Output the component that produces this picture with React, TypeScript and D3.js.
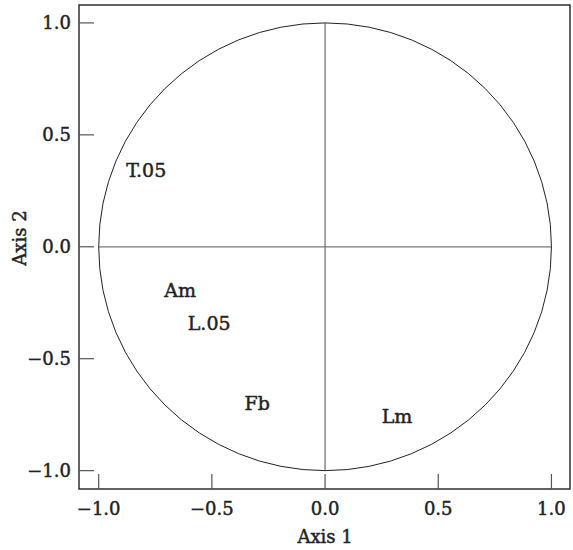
import * as d3 from 'd3';

const xTicks = [-1.0, -0.5, 0.0, 0.5, 1.0];
const yTicks = [-1.0, -0.5, 0.0, 0.5, 1.0];
const labelNames = ['T.05', 'Am', 'L.05', 'Fb', 'Lm'];
const labelX = [-0.79, -0.64, -0.512, -0.30, 0.318];
const labelY = [0.343, -0.193, -0.34, -0.70, -0.755];

const W = 573;
const H = 550;
const frame = { left: 79, right: 570, top: 5, bottom: 489 };
const font = '"DejaVu Serif", "Liberation Serif", serif';
const ink = '#222';

const fmt = (v: number) => (v < 0 ? '\u2212' : '') + Math.abs(v).toFixed(1);

export default function App() {
  const x = d3.scaleLinear().domain([-1.087, 1.082]).range([frame.left, frame.right]);
  const y = d3.scaleLinear().domain([-1.082, 1.08]).range([frame.bottom, frame.top]);
  const tickLen = 15;
  const textStyle = { stroke: ink, strokeWidth: 0.45, fill: ink };

  return (
    <svg
      width={W}
      height={H}
      style={{ position: 'absolute', left: 0, top: 0, background: '#fff' }}
      fontFamily={font}
    >
      {/* cross lines */}
      <line x1={x(-1)} x2={x(1)} y1={y(0)} y2={y(0)} stroke="#777" strokeWidth={1.3} />
      <line x1={x(0)} x2={x(0)} y1={y(1)} y2={y(-1)} stroke="#777" strokeWidth={1.3} />

      {/* unit circle */}
      <ellipse
        cx={x(0)}
        cy={y(0)}
        rx={x(1) - x(0)}
        ry={y(0) - y(1)}
        fill="none"
        stroke={ink}
        strokeWidth={1}
      />

      {/* frame */}
      <rect
        x={frame.left}
        y={frame.top}
        width={frame.right - frame.left}
        height={frame.bottom - frame.top}
        fill="none"
        stroke={ink}
        strokeWidth={1.4}
      />

      {/* x ticks */}
      {xTicks.map((t) => (
        <g key={'x' + t}>
          <line x1={x(t)} x2={x(t)} y1={frame.bottom} y2={frame.bottom - tickLen} stroke="#555" strokeWidth={1.2} />
          <text x={x(t)} y={515} textAnchor="middle" fontSize={18} {...textStyle}>
            {fmt(t)}
          </text>
        </g>
      ))}

      {/* y ticks */}
      {yTicks.map((t) => (
        <g key={'y' + t}>
          <line x1={frame.left} x2={frame.left + tickLen} y1={y(t)} y2={y(t)} stroke="#555" strokeWidth={1.2} />
          <text x={71} y={y(t)} dy="0.36em" textAnchor="end" fontSize={18} {...textStyle}>
            {fmt(t)}
          </text>
        </g>
      ))}

      {/* axis titles */}
      <text x={x(0)} y={543} textAnchor="middle" fontSize={18} {...textStyle}>
        Axis 1
      </text>
      <text transform="translate(26, 238) rotate(-90)" textAnchor="middle" fontSize={18} {...textStyle}>
        Axis 2
      </text>

      {/* variable labels */}
      {labelNames.map((n, i) => (
        <text
          key={n}
          x={x(labelX[i])}
          y={y(labelY[i])}
          dy="0.36em"
          textAnchor="middle"
          fontSize={19}
          {...textStyle}
        >
          {n}
        </text>
      ))}
    </svg>
  );
}
